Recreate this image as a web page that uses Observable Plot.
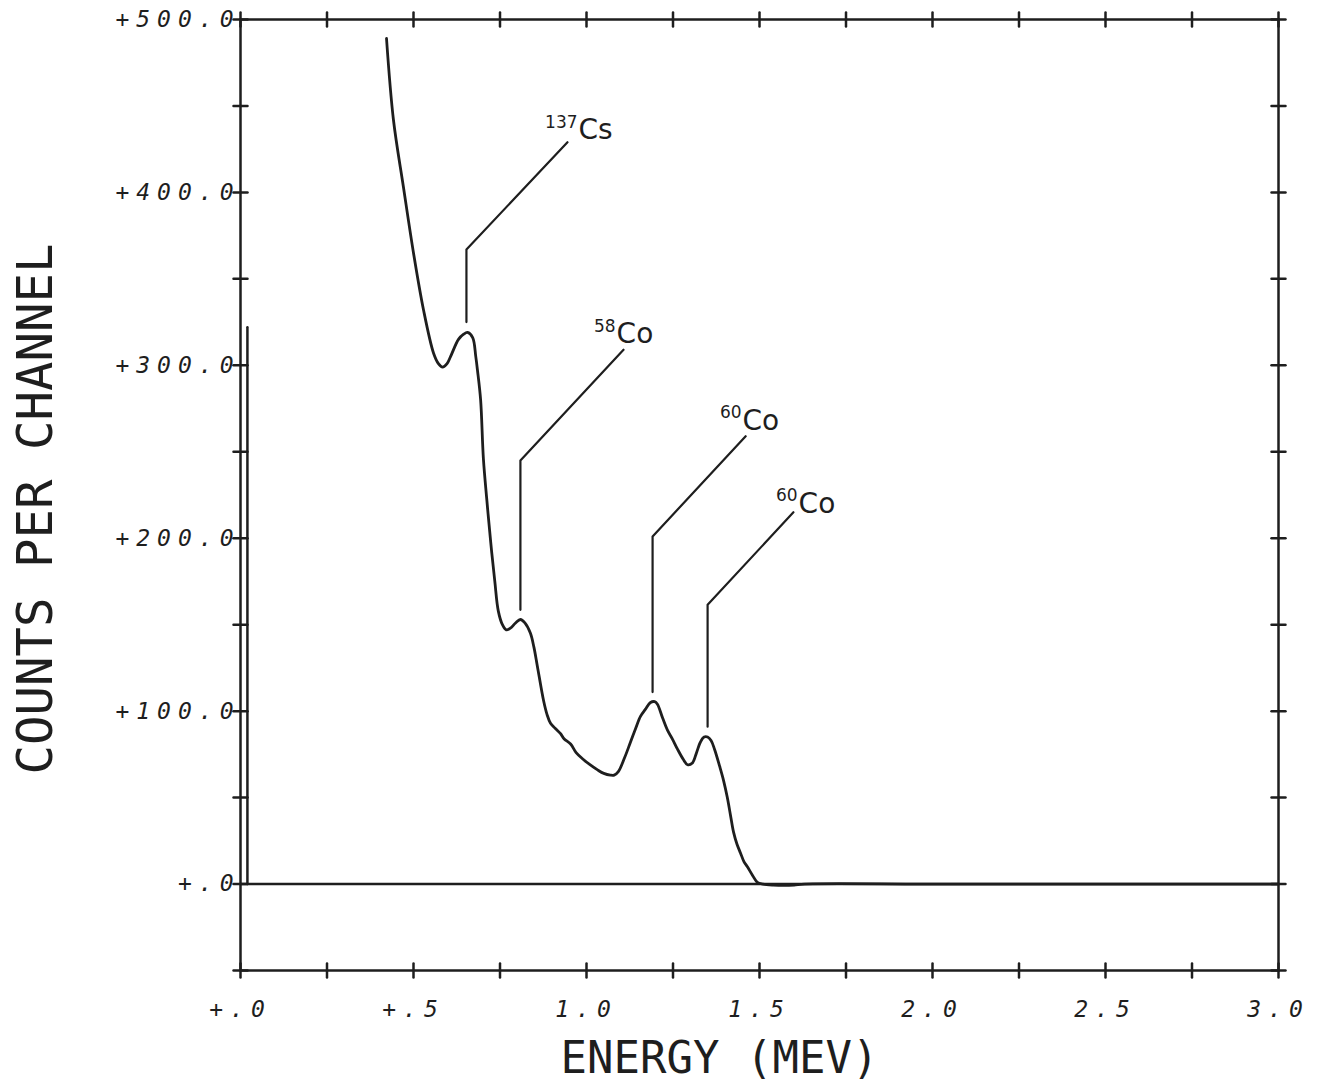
<!DOCTYPE html>
<html>
<head>
<meta charset="utf-8">
<script src="https://cdn.jsdelivr.net/npm/d3@7"></script>
<script src="https://cdn.jsdelivr.net/npm/@observablehq/plot@0.6"></script>
<style>
  body { margin: 0; background: #fff; }
  #chart g[aria-label="x-axis tick label"] text,
  #chart g[aria-label="y-axis tick label"] text { letter-spacing: 7px; }
</style>
</head>
<body>
<div id="chart"></div>
<script>
// ---- spectrum (energy in MeV, counts per channel) ----
const energy = [0.422,0.442,0.471,0.500,0.529,0.558,0.572,0.584,0.597,0.607,0.630,0.645,0.656,0.671,0.680,0.685,0.694,0.702,0.712,0.723,0.735,0.745,0.757,0.768,0.780,0.795,0.809,0.822,0.838,0.848,0.858,0.876,0.886,0.896,0.910,0.925,0.935,0.954,0.970,0.991,1.010,1.032,1.050,1.069,1.080,1.092,1.110,1.127,1.142,1.156,1.170,1.185,1.197,1.205,1.220,1.234,1.248,1.263,1.280,1.292,1.306,1.318,1.329,1.340,1.350,1.360,1.370,1.385,1.396,1.407,1.416,1.425,1.435,1.445,1.455,1.465,1.480,1.494,1.510,1.540,1.570,1.600,1.630,2.000,2.500,3.000];
const counts = [489,442,403,365,332,307,301,299,301,305,315,318,319,316,305,297,280,246,222,198,175,158,150,147,148,151,153,151,145,137,126,106,98,93,90,87,84,81,76,72,69,66,64,63,63,65,73,82,90,97,101,105,105.5,104,96,89,84,78,72,69,70,76,82,85,85,83,78,68,60,50,40,30,23,18,13,10,5,1,0,-0.6,-0.8,-0.6,0,0,0,0];

// low-energy spike near zero
const spikeEnergy = [0.02, 0.02];
const spikeCounts = [0, 322];

// ---- peak annotations ----
const peakMass = ["137", "58", "60", "60"];
const peakElement = ["Cs", "Co", "Co", "Co"];
const leaderEnergy = [0.653, 0.809, 1.191, 1.350];
const leaderLow = [325, 158.6, 111, 91];
const leaderBend = [367, 245, 201, 161.5];
const leaderEndEnergy = [0.945, 1.107, 1.460, 1.598];
const leaderEndCounts = [429, 309, 259, 215];
const labelEnergy = [0.977, 1.087, 1.451, 1.613];
const labelCounts = [436, 318, 268, 220];

// ---- axes ----
const xTicks = [0, 0.5, 1, 1.5, 2, 2.5, 3];
const xTickLabels = ["+.0", "+.5", "1.0", "1.5", "2.0", "2.5", "3.0"];
const xMinorTicks = [0,0.25,0.5,0.75,1,1.25,1.5,1.75,2,2.25,2.5,2.75,3];
const yTicks = [0, 100, 200, 300, 400, 500];
const yTickLabels = ["+.0", "+100.0", "+200.0", "+300.0", "+400.0", "+500.0"];
const yMinorTicks = [-50,0,50,100,150,200,250,300,350,400,450,500];
const xTitle = "ENERGY (MEV)";
const yTitle = "COUNTS PER CHANNEL";

const ink = "#1e1e1e";
const spectrum = energy.map((e, i) => ({e, c: counts[i]}));
const spike = spikeEnergy.map((e, i) => ({e, c: spikeCounts[i]}));
const leaders = [];
peakMass.forEach((m, i) => {
  leaders.push({k: i, e: leaderEnergy[i], c: leaderLow[i]});
  leaders.push({k: i, e: leaderEnergy[i], c: leaderBend[i]});
  leaders.push({k: i, e: leaderEndEnergy[i], c: leaderEndCounts[i]});
});
const labels = peakMass.map((m, i) => ({m, el: peakElement[i], e: labelEnergy[i], c: labelCounts[i]}));
const tickShape = {draw(context, l) { context.moveTo(0, 0); context.lineTo(0, -l); }};
const plotFont = "DejaVu Sans Mono";

const chart = Plot.plot({
  width: 1321,
  height: 1084,
  marginLeft: 240,
  marginRight: 43,
  marginTop: 19,
  marginBottom: 114,
  x: {domain: [0, 3]},
  y: {domain: [-50, 500]},
  style: {background: "#fff", color: ink},
  marks: [
    Plot.frame({stroke: ink, strokeWidth: 2.5}),
    Plot.ruleY([0], {stroke: ink, strokeWidth: 2.5}),
    Plot.vector(xMinorTicks, {x: d => d, frameAnchor: "bottom", length: 14, anchor: "middle", shape: tickShape, stroke: ink, strokeWidth: 2.5}),
    Plot.vector(xMinorTicks, {x: d => d, frameAnchor: "top", length: 14, anchor: "middle", shape: tickShape, stroke: ink, strokeWidth: 2.5}),
    Plot.vector(yMinorTicks, {y: d => d, frameAnchor: "left", length: 14, rotate: 90, anchor: "middle", shape: tickShape, stroke: ink, strokeWidth: 2.5}),
    Plot.vector(yMinorTicks, {y: d => d, frameAnchor: "right", length: 14, rotate: 90, anchor: "middle", shape: tickShape, stroke: ink, strokeWidth: 2.5}),
    Plot.axisX({ticks: xTicks, tickFormat: d => xTickLabels[xTicks.indexOf(d)], tickSize: 0, tickPadding: 30, fontSize: 23, fontFamily: plotFont, fontStyle: "italic", label: null, fill: ink}),
    Plot.axisY({ticks: yTicks, tickFormat: d => yTickLabels[yTicks.indexOf(d)], tickSize: 0, tickPadding: 0, fontSize: 23, fontFamily: plotFont, fontStyle: "italic", label: null, fill: ink}),
    Plot.text([xTitle], {text: d => d, frameAnchor: "bottom", textAnchor: "middle", lineAnchor: "middle", dx: -40, dy: 88, fontSize: 44, fontFamily: plotFont, fill: ink}),
    Plot.text([yTitle], {text: d => d, frameAnchor: "left", textAnchor: "middle", lineAnchor: "middle", rotate: -90, dx: -204, dy: 14, fontSize: 49, fontFamily: plotFont, fill: ink}),
    Plot.line(spike, {x: "e", y: "c", stroke: ink, strokeWidth: 2.5}),
    Plot.line(spectrum, {x: "e", y: "c", stroke: ink, strokeWidth: 2.8, curve: "catmull-rom"}),
    Plot.line(leaders, {x: "e", y: "c", z: "k", stroke: ink, strokeWidth: 2.2}),
    Plot.text(labels, {x: "e", y: "c", text: "el", textAnchor: "start", fontSize: 28, fontFamily: "DejaVu Sans", fill: ink}),
    Plot.text(labels, {x: "e", y: "c", text: "m", textAnchor: "end", dy: -8, dx: -1, fontSize: 17, fontFamily: "DejaVu Sans", fill: ink})
  ]
});
document.getElementById("chart").appendChild(chart);
</script>
</body>
</html>
